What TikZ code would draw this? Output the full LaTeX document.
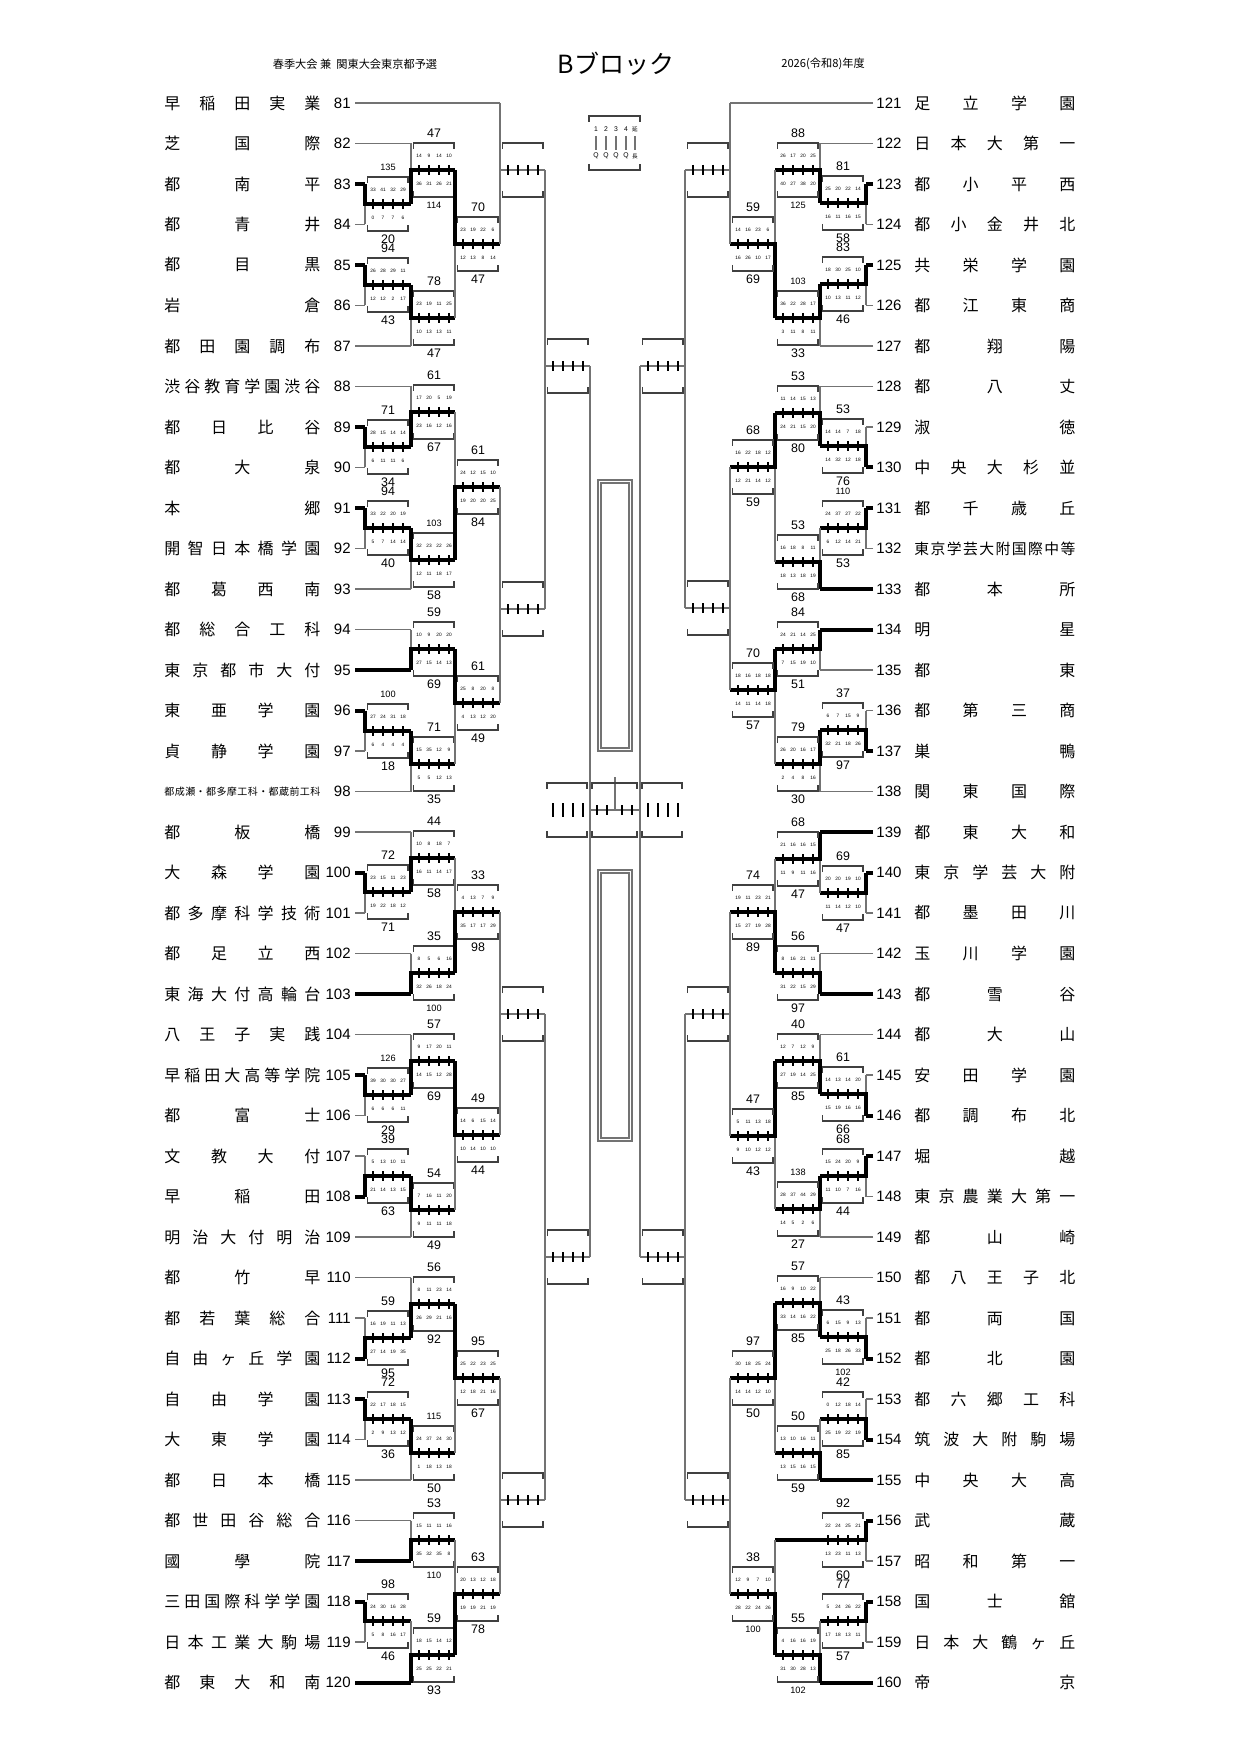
\documentclass[tikz,border=0pt]{standalone}
\usepackage{fontspec}
\setmainfont{Liberation Sans}
\newfontfamily\cjk{Noto Sans CJK JP}
\begin{document}
\def\sp#1#2\relax{#1\ifx\relax#2\relax\else\hfill\sp#2\relax\fi}
\def\TT#1{\ifnum#1>99 {\fontsize{4.6}{5}\selectfont #1}\else{\fontsize{6.2}{7}\selectfont #1}\fi}
\def\pscore#1/#2/#3/#4/#5/#6/#7/#8\relax{%
 \node[qs] at (\xl+8,\ym-14) {#1};\node[qs] at (\xl+18,\ym-14) {#2};
 \node[qs] at (\xl+28,\ym-14) {#3};\node[qs] at (\xl+38,\ym-14) {#4};
 \node[qs] at (\xl+8,\ym+14) {#5};\node[qs] at (\xl+18,\ym+14) {#6};
 \node[qs] at (\xl+28,\ym+14) {#7};\node[qs] at (\xl+38,\ym+14) {#8};}
\newcommand\BX{%
 \draw[br] (\xl+2.5,\ym-21)--(\xl+2.5,\ym-27)--(\xl+43,\ym-27)--(\xl+43,\ym-21);
 \draw[br] (\xl+2.5,\ym+21)--(\xl+2.5,\ym+27)--(\xl+43,\ym+27)--(\xl+43,\ym+21);
 \foreach \o in {8,18,28,38} \draw[tk] (\xl+\o,\ym-5)--(\xl+\o,\ym+5);}
\newcommand\M[9]{%
 \pgfmathsetmacro\xl{min(#1,#2)}\def\ym{#5}%
 \draw[gl] (#1,#3)--(#1,#4);
 \draw[gl] (#1,#5)--(#2,#5);
 \ifnum#6=1 \draw[wl] (#1,#3)--(#1,#5)--(#2,#5);\fi
 \ifnum#6=2 \draw[wl] (#1,#4)--(#1,#5)--(#2,#5);\fi
 \BX
 \node[tt] at (\xl+23,\ym-37) {\TT{#7}};
 \node[tt] at (\xl+23,\ym+35) {\TT{#8}};
 \pscore#9\relax}
\newcommand\E[5]{%
 \pgfmathsetmacro\xl{min(#1,#2)}\def\ym{#5}%
 \draw[gl] (#1,#3)--(#1,#4);
 \draw[gl] (#1,#5)--(#2,#5);
 \BX}
\begin{tikzpicture}[x=0.5pt,y=-0.5pt,
 gl/.style={draw=black!55,line width=0.65pt},
 wl/.style={draw=black,line width=2pt},
 br/.style={draw=black!75,line width=0.6pt},
 tk/.style={draw=black,line width=0.55pt},
 qs/.style={inner sep=0,font=\fontsize{2.4}{3}\selectfont},
 tt/.style={inner sep=0},
 num/.style={inner sep=0,font=\fontsize{7.5}{8}\selectfont},
 nm/.style={inner sep=0,anchor=west}]
\useasboundingbox (0,0) rectangle (1241,1754);
% header
\node[inner sep=0,font=\cjk\fontsize{5.6}{6}\selectfont] (h1) at (355,64) {春季大会\ 兼\ \ 関東大会東京都予選};
\node[inner sep=0,font=\cjk\fontsize{12.5}{13}\selectfont] (h2) at (616,64) {Bブロック};
\node[inner sep=0,font=\cjk\fontsize{5.6}{6}\selectfont] (h3) at (823,64) {2026(令和8)年度};
% legend
\draw[br] (589,122)--(589,116)--(640,116)--(640,122);
\draw[br] (589,164)--(589,170)--(640,170)--(640,164);
\foreach \x/\a/\b in {596/1/Q,606/2/Q,616/3/Q,626/4/Q}{
 \node[inner sep=0,font=\fontsize{3.4}{4}\selectfont] at (\x,129) {\a};
 \draw[gl] (\x,136)--(\x,150);
 \node[inner sep=0,font=\fontsize{3.4}{4}\selectfont] at (\x,156) {\b};}
\node[inner sep=0,font=\cjk\fontsize{2.8}{3}\selectfont] at (635,129) {延};
\draw[gl] (635,136)--(635,150);
\node[inner sep=0,font=\cjk\fontsize{2.8}{3}\selectfont] at (635,156) {長};
% left teams
\foreach \n/\nm/\xe/\st in {81/早稲田実業/500/gl,82/芝国際/411/gl,83/都南平/365/wl,84/都青井/365/gl,85/都目黒/365/wl,86/岩倉/365/gl,87/都田園調布/411/gl,88/渋谷教育学園渋谷/411/gl,89/都日比谷/365/wl,90/都大泉/365/gl,91/本郷/365/wl,92/開智日本橋学園/365/gl,93/都葛西南/411/gl,94/都総合工科/411/gl,95/東京都市大付/411/wl,96/東亜学園/365/wl,97/貞静学園/365/gl,99/都板橋/411/gl,100/大森学園/365/wl,101/都多摩科学技術/365/gl,102/都足立西/411/gl,103/東海大付高輪台/411/wl,104/八王子実践/411/gl,105/早稲田大高等学院/365/wl,106/都富士/365/gl,107/文教大付/365/gl,108/早稲田/365/wl,109/明治大付明治/411/gl,110/都竹早/411/gl,111/都若葉総合/365/gl,112/自由ヶ丘学園/365/wl,113/自由学園/365/wl,114/大東学園/365/gl,115/都日本橋/411/gl,116/都世田谷総合/411/gl,117/國學院/411/wl,118/三田国際科学学園/365/wl,119/日本工業大駒場/365/gl,120/都東大和南/411/wl}{
 \pgfmathsetmacro\yy{103+(\n-81)*40.5}
 \draw[\st] (355,\yy)--(\xe,\yy);
 \node[num,anchor=east] at (351,\yy) {\n};
 \node[nm] at (164,\yy) {\hbox to 78pt{\cjk\fontsize{8}{8}\selectfont\expandafter\sp\nm\relax}};}
\draw[gl] (355,791.5)--(411,791.5);
\node[num,anchor=east] at (351,791.5) {98};
\node[nm] at (164,791.5) {\hbox to 78pt{\cjk\fontsize{5}{5}\selectfont\sp 都成瀬・都多摩工科・都蔵前工科\relax}};
% right teams
\foreach \n/\nm/\xe/\st in {121/足立学園/730/gl,122/日本大第一/820/gl,123/都小平西/866/wl,124/都小金井北/866/gl,125/共栄学園/866/wl,126/都江東商/866/gl,127/都翔陽/820/gl,128/都八丈/820/gl,129/淑徳/866/gl,130/中央大杉並/866/wl,131/都千歳丘/866/wl,133/都本所/820/wl,134/明星/820/wl,135/都東/820/gl,136/都第三商/866/gl,137/巣鴨/866/wl,138/関東国際/820/gl,139/都東大和/820/wl,140/東京学芸大附/866/wl,141/都墨田川/866/gl,142/玉川学園/820/gl,143/都雪谷/820/wl,144/都大山/820/gl,145/安田学園/866/gl,146/都調布北/866/wl,147/堀越/866/wl,148/東京農業大第一/866/gl,149/都山崎/820/gl,150/都八王子北/820/gl,151/都両国/866/gl,152/都北園/866/wl,153/都六郷工科/866/gl,154/筑波大附駒場/866/wl,155/中央大高/820/wl,156/武蔵/866/wl,157/昭和第一/866/gl,158/国士舘/866/wl,159/日本大鶴ヶ丘/866/gl,160/帝京/820/wl}{
 \pgfmathsetmacro\yy{103+(\n-121)*40.5}
 \draw[\st] (873,\yy)--(\xe,\yy);
 \node[num,anchor=west] at (876,\yy) {\n};
 \node[nm] at (914,\yy) {\hbox to 80.5pt{\cjk\fontsize{8}{8}\selectfont\expandafter\sp\nm\relax}};}
\draw[gl] (873,548.5)--(866,548.5);
\node[num,anchor=west] at (876,548.5) {132};
\node[nm] at (914,548.5) {\hbox to 80.5pt{\cjk\fontsize{7.4}{7.4}\selectfont\sp 東京学芸大附国際中等\relax}};
% left matches
\M{365}{411}{184}{224.5}{204}{1}{135}{20}{33/41/32/29/0/7/7/6}
\M{411}{455}{143.5}{204}{170}{2}{47}{114}{14/9/14/10/36/31/26/21}
\M{365}{411}{265}{305.5}{285}{1}{94}{43}{26/28/29/11/12/12/2/17}
\M{411}{455}{285}{346}{318}{1}{78}{47}{23/19/11/25/10/13/13/11}
\M{455}{500}{170}{318}{244}{1}{70}{47}{23/19/22/6/12/13/8/14}
\E{500}{545}{103}{244}{170}
\M{365}{411}{427}{467.5}{447}{1}{71}{34}{28/15/14/14/6/11/11/6}
\M{411}{455}{386.5}{447}{412}{2}{61}{67}{17/20/5/19/23/16/12/16}
\M{365}{411}{508}{548.5}{528}{1}{94}{40}{33/22/20/19/5/7/14/14}
\M{411}{455}{528}{589}{560}{1}{103}{58}{32/23/22/26/12/11/18/17}
\M{455}{500}{412}{560}{487}{2}{61}{84}{24/12/15/10/19/20/20/25}
\M{411}{455}{629.5}{670}{649}{2}{59}{69}{10/9/20/20/27/15/14/13}
\M{365}{411}{710.5}{751}{731}{1}{100}{18}{27/24/31/18/6/4/4/4}
\M{411}{455}{731}{791.5}{764}{1}{71}{35}{15/35/12/9/5/5/12/13}
\M{455}{500}{649}{764}{703}{1}{61}{49}{25/8/20/8/4/13/12/20}
\E{500}{545}{487}{703}{609}
\E{545}{590}{170}{609}{366}
\M{365}{411}{872.5}{913}{892}{1}{72}{71}{23/15/11/23/19/22/18/12}
\M{411}{455}{832}{892}{858}{2}{44}{58}{10/8/18/7/16/11/14/17}
\M{411}{455}{953.5}{994}{973}{2}{35}{100}{8/5/6/16/32/26/18/24}
\M{455}{500}{858}{973}{912}{2}{33}{98}{4/13/7/9/35/17/17/29}
\M{365}{411}{1075}{1115.5}{1095}{1}{126}{29}{39/30/30/27/6/6/6/11}
\M{411}{455}{1034.5}{1095}{1061}{2}{57}{69}{9/17/20/11/14/15/12/28}
\M{365}{411}{1156}{1196.5}{1176}{2}{39}{63}{5/13/10/11/21/14/13/15}
\M{411}{455}{1176}{1237}{1210}{1}{54}{49}{7/16/11/20/9/11/11/18}
\M{455}{500}{1061}{1210}{1135}{1}{49}{44}{14/6/15/14/10/14/10/10}
\E{500}{545}{912}{1135}{1014}
\M{365}{411}{1318}{1358.5}{1338}{2}{59}{95}{16/19/11/13/27/14/19/35}
\M{411}{455}{1277.5}{1338}{1304}{2}{56}{92}{8/11/23/14/26/29/21/16}
\M{365}{411}{1399}{1439.5}{1419}{1}{72}{36}{22/17/18/15/2/9/13/12}
\M{411}{455}{1419}{1480}{1453}{1}{115}{50}{24/37/24/30/1/18/13/18}
\M{455}{500}{1304}{1453}{1378}{1}{95}{67}{25/22/23/25/12/18/21/16}
\M{411}{455}{1520.5}{1561}{1540}{2}{53}{110}{15/11/11/16/35/32/35/8}
\M{365}{411}{1601.5}{1642}{1621}{1}{98}{46}{24/30/16/28/5/8/16/17}
\M{411}{455}{1621}{1682.5}{1655}{2}{59}{93}{18/15/14/12/25/25/22/21}
\M{455}{500}{1540}{1655}{1594}{2}{63}{78}{20/13/12/18/19/19/21/19}
\E{500}{545}{1378}{1594}{1500}
\E{545}{590}{1014}{1500}{1257}
% right matches
\M{866}{820}{184}{224.5}{203}{1}{81}{58}{25/20/22/14/16/11/16/15}
\M{820}{775}{143.5}{203}{170}{2}{88}{125}{26/17/20/25/40/27/38/20}
\M{866}{820}{265}{305.5}{284}{1}{83}{46}{18/30/25/10/10/13/11/12}
\M{820}{775}{284}{346}{318}{1}{103}{33}{36/22/28/17/3/11/8/11}
\M{775}{730}{170}{318}{244}{2}{59}{69}{14/16/23/6/16/26/10/17}
\E{730}{685}{103}{244}{170}
\M{866}{820}{427}{467.5}{446}{2}{53}{76}{14/14/7/18/14/32/12/18}
\M{820}{775}{386.5}{446}{413}{2}{53}{80}{11/14/15/13/24/21/15/20}
\M{866}{820}{508}{548.5}{528}{1}{110}{53}{24/37/27/22/6/12/14/21}
\M{820}{775}{528}{589}{562}{2}{53}{68}{16/18/8/11/18/13/18/19}
\M{775}{730}{413}{562}{467}{1}{68}{59}{16/22/18/12/12/21/14/12}
\M{820}{775}{629.5}{670}{649}{1}{84}{51}{24/21/14/25/7/15/19/10}
\M{866}{820}{710.5}{751}{730}{2}{37}{97}{6/7/15/9/32/21/18/26}
\M{820}{775}{730}{791.5}{764}{1}{79}{30}{26/20/16/17/2/4/8/16}
\M{775}{730}{649}{764}{690}{1}{70}{57}{18/16/18/18/14/11/14/18}
\E{730}{685}{467}{690}{608}
\E{685}{640}{170}{608}{366}
\M{866}{820}{872.5}{913}{893}{1}{69}{47}{20/20/19/10/11/14/12/10}
\M{820}{775}{832}{893}{859}{1}{68}{47}{21/16/16/15/11/9/11/16}
\M{820}{775}{953.5}{994}{973}{2}{56}{97}{8/16/21/11/31/22/15/29}
\M{775}{730}{859}{973}{912}{2}{74}{89}{19/11/23/21/15/27/19/28}
\M{866}{820}{1075}{1115.5}{1094}{2}{61}{66}{14/13/14/20/15/19/16/16}
\M{820}{775}{1034.5}{1094}{1061}{2}{40}{85}{12/7/12/9/27/19/14/25}
\M{866}{820}{1156}{1196.5}{1176}{1}{68}{44}{15/24/20/9/11/10/7/16}
\M{820}{775}{1176}{1237}{1209}{1}{138}{27}{28/37/44/29/14/5/2/6}
\M{775}{730}{1061}{1209}{1136}{1}{47}{43}{5/11/13/18/9/10/12/12}
\E{730}{685}{912}{1136}{1014}
\M{866}{820}{1318}{1358.5}{1337}{2}{43}{102}{6/15/9/13/25/18/26/33}
\M{820}{775}{1277.5}{1337}{1303}{2}{57}{85}{16/9/10/22/33/14/16/22}
\M{866}{820}{1399}{1439.5}{1419}{2}{42}{85}{0/12/18/14/25/19/22/19}
\M{820}{775}{1419}{1480}{1453}{2}{50}{59}{13/10/16/11/13/15/16/15}
\M{775}{730}{1303}{1453}{1378}{1}{97}{50}{30/18/25/24/14/14/12/10}
\M{866}{820}{1520.5}{1561}{1540}{1}{92}{60}{22/24/25/21/13/23/11/13}
\draw[wl] (820,1540)--(775,1540);
\M{866}{820}{1601.5}{1642}{1621}{1}{77}{57}{5/24/26/22/17/18/13/11}
\M{820}{775}{1621}{1682.5}{1655}{2}{55}{102}{4/16/16/19/31/30/28/13}
\M{775}{730}{1540}{1655}{1594}{2}{38}{100}{12/9/7/10/28/22/24/26}
\E{730}{685}{1378}{1594}{1500}
\E{685}{640}{1014}{1500}{1257}
% centre
\draw[gl] (590,366)--(590,1257);
\draw[gl] (640,366)--(640,1257);
\draw[gl] (590,810)--(640,810);
\draw[gl] (615,777)--(615,810);
\draw[br] (592,789)--(592,783)--(637,783)--(637,789);
\draw[br] (592,831)--(592,837)--(637,837)--(637,831);
\foreach \x in {597,607,622,632} \draw[tk] (\x,805)--(\x,815);
\foreach \a in {547,642}{
 \draw[br] (\a,789)--(\a,783)--(\a+40,783)--(\a+40,789);
 \draw[br] (\a,831)--(\a,837)--(\a+40,837)--(\a+40,831);
 \foreach \o in {6,16,26,36} \draw[tk] (\a+\o,803)--(\a+\o,817);}
\foreach \ya/\yb in {480/751,870/1141}{
 \draw[gl] (598,\ya) rectangle (632,\yb);
 \draw[gl] (601,\ya+3) rectangle (629,\yb-3);}
\end{tikzpicture}
\end{document}
